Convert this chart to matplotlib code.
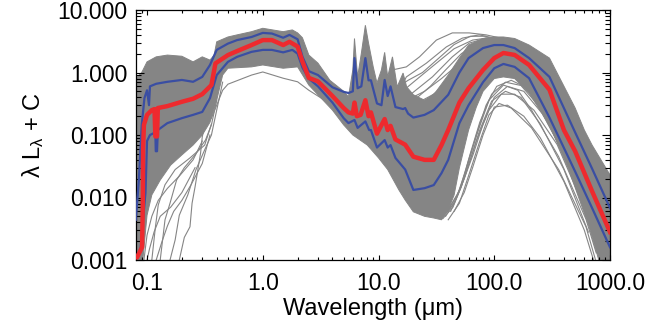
import numpy as np
import matplotlib
matplotlib.use("Agg")
import matplotlib.pyplot as plt
from matplotlib.ticker import FixedLocator, FixedFormatter, LogLocator, NullFormatter

plt.rcParams['font.family'] = ['Liberation Sans', 'DejaVu Sans']
plt.rcParams['mathtext.default'] = 'regular'

# ---------------- data ----------------
# median SED (red)
lam_med = [0.08, 0.082, 0.0906, 0.092, 0.0925, 0.094, 0.10, 0.11, 0.116, 0.118, 0.122, 0.124,
           0.15, 0.2, 0.25, 0.3, 0.36, 0.39, 0.5, 0.6, 0.8, 1.0, 1.2, 1.5, 1.7, 2.0, 2.2, 2.5,
           3.0, 4.0, 5.0, 5.5, 6.0, 6.2, 6.5, 7.0, 7.7, 8.2, 8.6, 9.7, 11.3, 12.0, 12.7, 14,
           17, 20, 25, 30, 35, 40, 50, 60, 80, 100, 120, 150, 200, 300, 400, 500, 700, 1000]
med = [0.0011, 0.0011, 0.0016, 0.0091, 0.06, 0.145, 0.21, 0.25, 0.26, 0.095, 0.095, 0.27,
       0.29, 0.34, 0.38, 0.45, 0.63, 1.4, 1.9, 2.2, 2.75, 3.3, 3.3, 2.75, 3.1, 2.6, 1.5, 0.82,
       0.72, 0.42, 0.27, 0.23, 0.22, 0.33, 0.2, 0.21, 0.36, 0.2, 0.23, 0.105, 0.18, 0.12, 0.14, 0.085,
       0.07, 0.045, 0.04, 0.04, 0.069, 0.12, 0.33, 0.56, 1.10, 1.7, 2.05, 1.91, 1.32, 0.53, 0.12, 0.055, 0.0126, 0.0028]

# upper percentile (blue)
lam_hi = [0.08, 0.085, 0.09, 0.095, 0.1, 0.104, 0.106, 0.12, 0.15, 0.2, 0.25, 0.3, 0.35, 0.4, 0.5,
          0.6, 0.8, 1.0, 1.2, 1.5, 1.7, 2.0, 2.2, 2.5, 3.0, 4.0, 5.0, 5.5, 6.0, 6.2, 6.6, 7.1,
          7.7, 8.2, 8.6, 9.7, 10.6, 11.3, 12.0, 12.7, 14, 16.3, 17, 18, 20, 25, 30, 40, 50, 60,
          80, 100, 120, 150, 200, 300, 500, 700, 1000]
hi = [0.0044, 0.019, 0.145, 0.39, 0.52, 0.3, 0.6, 0.66, 0.71, 0.76, 0.71, 0.85, 1.32, 2.3, 2.9,
      3.3, 3.7, 4.3, 4.2, 3.6, 4.0, 3.4, 1.8, 1.05, 0.91, 0.58, 0.49, 0.47, 0.5, 1.7, 0.56, 0.6,
      1.7, 0.75, 0.75, 0.32, 0.3, 0.76, 0.42, 0.6, 0.28, 0.26, 0.27, 0.22, 0.19, 0.21, 0.25, 0.44, 1.0, 1.7,
      2.46, 2.75, 2.75, 2.46, 1.7, 0.85, 0.11, 0.029, 0.0068]

# lower percentile (blue)
lam_lo = [0.08, 0.088, 0.092, 0.097, 0.1, 0.106, 0.118, 0.119, 0.122, 0.124, 0.15, 0.2, 0.25,
          0.3, 0.35, 0.4, 0.5, 0.6, 0.8, 1.0, 1.2, 1.5, 1.8, 2.0, 2.2, 2.5, 3.0, 4.0, 5.0, 5.5,
          6.2, 6.6, 7.7, 8.3, 8.6, 9.7, 11.3, 12.0, 12.7, 14, 17, 20, 25, 30, 35, 40, 50, 60,
          80, 100, 120, 150, 200, 300, 500, 700, 1000]
lo = [0.0011, 0.0015, 0.004, 0.012, 0.08, 0.1, 0.11, 0.055, 0.055, 0.12, 0.155, 0.186, 0.21,
      0.234, 0.39, 0.91, 1.48, 1.78, 2.14, 2.3, 2.3, 2.1, 2.3, 2.0, 1.2, 0.8, 0.6, 0.33, 0.186, 0.155,
      0.174, 0.13, 0.165, 0.12, 0.12, 0.063, 0.083, 0.063, 0.069, 0.043, 0.028, 0.0132, 0.0141, 0.0158, 0.0245, 0.04, 0.155, 0.3,
      0.7, 1.17, 1.37, 1.23, 0.81, 0.19, 0.026, 0.0068, 0.0016]

# envelope of the dense bundle of individual SEDs (gray)
lam_band_top = [0.08, 0.085, 0.09, 0.1, 0.12, 0.15, 0.2, 0.25, 0.3, 0.35, 0.38, 0.4, 0.5, 0.6,
                0.8, 1.0, 1.5, 1.8, 2.0, 2.2, 2.5, 3.0, 3.8, 5.0, 5.5, 6.0, 6.2, 6.6, 7.1, 7.7,
                8.2, 9.0, 9.7, 10.6, 11.3, 12.0, 13.2, 14.5, 16.3, 17.5, 20, 25, 30, 40, 50, 60,
                80, 100, 120, 150, 200, 300, 500, 600, 700, 1000]
band_top = [0.8, 0.9, 1.0, 1.48, 1.78, 1.9, 1.82, 1.48, 1.78, 1.58, 1.9, 3.1, 3.7, 4.0,
            4.5, 5.1, 4.5, 4.8, 4.3, 3.6, 1.9, 1.41, 0.75, 0.5, 0.41, 1.1, 3.5, 0.85, 2.0, 5.7,
            2.95, 1.23, 0.68, 1.1, 2.1, 0.85, 1.78, 0.59, 0.98, 0.59, 0.44, 0.36, 0.44, 0.91, 1.7, 2.75,
            3.5, 3.7, 3.7, 3.5, 2.75, 1.7, 0.27, 0.12, 0.069, 0.023]
lam_band_bot = [0.08, 0.092, 0.1, 0.11, 0.13, 0.16, 0.2, 0.25, 0.3, 0.35, 0.4, 0.45, 0.5, 0.8,
                1.0, 1.5, 2.0, 2.5, 3.0, 4.0, 5.0, 6.0, 8.0, 10, 12, 15, 17, 20, 25, 30, 35, 40,
                45, 50, 60, 70, 80, 100, 120, 150, 200, 300, 440, 660, 800, 1000]
band_bot = [0.001, 0.001, 0.0052, 0.011, 0.019, 0.033, 0.048, 0.069, 0.1, 0.16, 0.36, 0.91, 1.17, 1.23,
            1.32, 1.17, 1.23, 0.63, 0.44, 0.25, 0.145, 0.1, 0.069, 0.043, 0.028, 0.0132, 0.0091, 0.0059, 0.005, 0.0047, 0.0044, 0.0063,
            0.011, 0.03, 0.12, 0.28, 0.5, 0.8, 0.85, 0.8, 0.47, 0.144, 0.028, 0.0034, 0.001, 0.001]

# individual SEDs that stand out from the bundle (gray)
outliers = [
    # UV / optical faint ones
    ([0.094, 0.1, 0.11, 0.125, 0.15, 0.19, 0.25, 0.3],
     [0.001, 0.0025, 0.005, 0.009, 0.014, 0.022, 0.04, 0.08]),
    ([0.1, 0.105, 0.115, 0.13, 0.16, 0.2, 0.26],
     [0.001, 0.0015, 0.0028, 0.005, 0.007, 0.012, 0.03]),
    ([0.11, 0.118, 0.125, 0.143, 0.175, 0.235, 0.315, 0.36],
     [0.001, 0.0033, 0.0076, 0.016, 0.028, 0.043, 0.069, 0.15]),
    ([0.12, 0.135, 0.15, 0.17, 0.2, 0.24, 0.3, 0.35],
     [0.001, 0.002, 0.0035, 0.006, 0.009, 0.016, 0.035, 0.1]),
    ([0.13, 0.143, 0.158, 0.18, 0.21, 0.26, 0.32, 0.36, 0.4],
     [0.001, 0.0044, 0.0081, 0.019, 0.03, 0.048, 0.083, 0.145, 0.36]),
    ([0.158, 0.175, 0.19, 0.225, 0.265, 0.315, 0.36, 0.4, 0.45],
     [0.001, 0.0021, 0.0052, 0.011, 0.028, 0.058, 0.1, 0.25, 0.7]),
    ([0.19, 0.21, 0.235, 0.245, 0.26, 0.29, 0.3, 0.315, 0.36, 0.4, 0.45, 0.5, 0.8, 1.0,
      1.5, 2.0, 2.5, 3.0, 4.0, 5.0, 7.0, 10.0],
     [0.001, 0.0023, 0.0034, 0.0081, 0.0148, 0.051, 0.093, 0.145, 0.186, 0.3, 0.52, 0.65, 0.91, 1.02,
      0.81, 0.71, 0.52, 0.42, 0.3, 0.21, 0.174, 0.138]),
    # warm-dust humps above the bundle
    ([12, 13.2, 17.4, 22.6, 31.6, 43.4, 60.8, 85, 110],
     [0.6, 1.1, 1.23, 1.78, 3.3, 4.3, 4.3, 4.0, 3.6]),
    ([14, 18, 24, 32, 45, 62, 85],
     [0.55, 0.75, 1.0, 1.6, 2.8, 3.8, 3.8]),
    ([15, 17.4, 25.9, 38.6, 53, 74, 100],
     [0.5, 0.85, 1.41, 2.57, 3.55, 4.0, 3.55]),
    ([15, 20, 30, 45, 65, 90],
     [0.45, 0.7, 1.3, 2.4, 3.3, 3.6]),
    ([16, 19.6, 29.2, 43.4, 60.8, 85, 110],
     [0.3, 0.47, 0.85, 1.78, 2.95, 3.55, 3.4]),
    ([16, 21, 28, 38, 52, 72, 100],
     [0.3, 0.38, 0.6, 1.1, 2.0, 3.0, 3.4]),
    ([17, 25, 35, 50, 70, 100],
     [0.35, 0.5, 0.8, 1.4, 2.5, 3.2]),
    ([17, 22.6, 33.6, 50, 70, 96, 130],
     [0.2, 0.28, 0.52, 1.23, 2.3, 3.3, 3.2]),
    ([18, 24, 32, 45, 62, 85],
     [0.25, 0.32, 0.5, 0.9, 1.7, 2.7]),
    ([18, 27.5, 43.4, 60.8, 85, 120],
     [0.17, 0.25, 0.47, 0.85, 1.78, 2.6]),
    ([20, 30, 40, 55, 75, 100],
     [0.3, 0.45, 0.7, 1.3, 2.2, 2.9]),
    # cold-dust humps below the bundle
    ([40, 50, 61, 74, 90, 110, 140, 210, 360, 620, 750],
     [0.0044, 0.0081, 0.0245, 0.074, 0.21, 0.32, 0.27, 0.13, 0.028, 0.0034, 0.001]),
    ([40, 50, 60, 74, 90, 120, 160, 210, 360, 620, 760],
     [0.0063, 0.013, 0.04, 0.13, 0.36, 0.63, 0.52, 0.25, 0.045, 0.0045, 0.0013]),
    ([38, 48, 58, 70, 85, 105, 140, 200, 300, 450, 650, 850],
     [0.0055, 0.011, 0.03, 0.1, 0.3, 0.6, 0.75, 0.55, 0.2, 0.045, 0.006, 0.0012]),
    ([45, 55, 65, 80, 100, 130, 180, 250, 400, 600, 720],
     [0.006, 0.012, 0.03, 0.1, 0.28, 0.3, 0.2, 0.09, 0.018, 0.003, 0.001]),
    ([35, 45, 55, 70, 90, 115, 150, 220, 350, 550, 800],
     [0.0047, 0.008, 0.02, 0.08, 0.25, 0.45, 0.45, 0.25, 0.07, 0.01, 0.0015]),
    ([38, 46, 55, 66, 80, 100, 130, 180, 260, 400, 600, 820],
     [0.005, 0.009, 0.02, 0.05, 0.15, 0.4, 0.6, 0.5, 0.22, 0.05, 0.008, 0.0013]),
    ([42, 52, 62, 75, 95, 125, 170, 240, 380, 580, 800],
     [0.006, 0.015, 0.05, 0.16, 0.45, 0.7, 0.62, 0.3, 0.06, 0.009, 0.0016]),
    ([36, 44, 52, 62, 75, 95, 125, 170, 250, 400, 650],
     [0.0046, 0.007, 0.015, 0.04, 0.12, 0.35, 0.5, 0.4, 0.15, 0.028, 0.0028]),
]

x_ticks = [0.1, 1.0, 10.0, 100.0, 1000.0]
x_labels = ['0.1', '1.0', '10.0', '100.0', '1000.0']
y_ticks = [0.001, 0.01, 0.1, 1.0, 10.0]
y_labels = ['0.001', '0.010', '0.100', '1.000', '10.000']

# ---------------- plot ----------------
GRAY = '#858585'
BLUE = '#3a4ea3'
RED = '#ee2a2e'

fig = plt.figure(figsize=(6.67, 3.26), dpi=100)
ax = fig.add_axes([136/667, 66/326, 474/667, 250/326])
ax.set_xscale('log')
ax.set_yscale('log')

poly_x = list(lam_band_top) + list(lam_band_bot[::-1])
poly_y = list(band_top) + list(band_bot[::-1])
ax.fill(poly_x, poly_y, facecolor=GRAY, edgecolor=GRAY, lw=0.7, zorder=1)
for lx, ly in outliers:
    ax.plot(lx, ly, color=GRAY, lw=0.8, zorder=1)

ax.plot(lam_hi, hi, color=BLUE, lw=1.6, zorder=3)
ax.plot(lam_lo, lo, color=BLUE, lw=1.6, zorder=3)
ax.plot(lam_med, med, color=RED, lw=3.2, zorder=4)

ax.set_xlim(0.0803, 1000)
ax.set_ylim(0.001, 10)

ax.xaxis.set_major_locator(FixedLocator(x_ticks))
ax.xaxis.set_major_formatter(FixedFormatter(x_labels))
ax.yaxis.set_major_locator(FixedLocator(y_ticks))
ax.yaxis.set_major_formatter(FixedFormatter(y_labels))
ax.xaxis.set_minor_locator(LogLocator(base=10, subs=np.arange(2, 10)))
ax.yaxis.set_minor_locator(LogLocator(base=10, subs=np.arange(2, 10)))
ax.xaxis.set_minor_formatter(NullFormatter())
ax.yaxis.set_minor_formatter(NullFormatter())

ax.tick_params(axis='both', which='both', direction='in', top=True, right=True,
               labelsize=16.5, width=0.8, colors='black')
ax.tick_params(axis='x', which='major', length=3.6, pad=9)
ax.tick_params(axis='x', which='minor', length=2.2)
ax.tick_params(axis='y', which='major', length=5.8, pad=6)
ax.tick_params(axis='y', which='minor', length=3.6)
for s in ax.spines.values():
    s.set_linewidth(0.9)

ax.set_xlabel('Wavelength (μm)', fontsize=17, labelpad=2)
ax.set_ylabel('λ L$_λ$ + C', fontsize=17, labelpad=8)

fig.savefig('out.png', dpi=100)
